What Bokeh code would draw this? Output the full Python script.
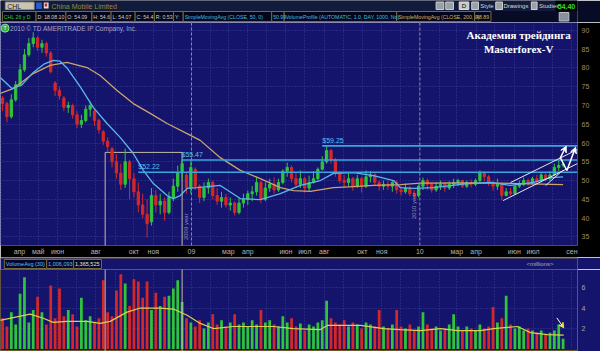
import numpy as np
import pandas as pd
from bokeh.plotting import figure
from bokeh.layouts import column
from bokeh.models import Range1d, FixedTicker, Label, Arrow, VeeHead, Span, ColumnDataSource
from bokeh.core.properties import value
from bokeh.embed import file_html
from bokeh.resources import INLINE

BASE = pd.Timestamp("2008-01-01")


def days(seq):
    return [(pd.Timestamp(d) - BASE).days for d in seq]


# ---------------- data (weekly bars) ----------------
week_dates = pd.date_range("2008-03-05", periods=129, freq="7D")
opens = [72, 70.5, 67, 71.5, 75.5, 79.5, 83.5, 86.5, 88, 85.5,
         86.5, 84, 76, 74, 72, 69.5, 70, 67.5, 65, 66,
         69, 68.5, 66, 63, 60.5, 58.5, 55, 52, 49, 55,
         50.5, 47, 43.5, 41, 39, 46, 43.5, 44.5, 41.5, 45.5,
         48.5, 52, 51.5, 48, 53, 48.5, 45.5, 48, 49.5, 46,
         44.5, 45.5, 43.5, 44, 41.5, 44, 45, 46.5, 47, 49.5,
         45, 48, 49, 47.5, 49.5, 52.5, 53.5, 50.5, 49, 50.5,
         48, 49.5, 50.5, 53, 55, 58, 55.5, 52, 50, 49.5,
         50.5, 48.5, 50.5, 48.5, 51, 51.5, 49.5, 48.5, 49, 48.5,
         49.5, 47.5, 47, 48, 46.5, 46, 48.5, 50, 49, 47.5,
         48.5, 49, 48, 49, 49.5, 50, 48.5, 49.5, 49, 50,
         52, 51, 49.5, 48.5, 49, 46, 47, 46.5, 48.5, 49,
         50, 49.5, 50.5, 50, 51.5, 50.5, 51.5, 53.5, 54.09]
highs = [72.5, 71, 73, 76.5, 81, 85, 88, 89.5, 88.5, 87.5,
         87, 84.5, 76.5, 75, 72.5, 71, 70.5, 68.5, 67.5, 70,
         71, 69, 66.5, 63.5, 61.5, 59, 57, 54.5, 58.5, 55.5,
         52, 49.5, 46.5, 45, 48, 47.5, 46.5, 45.5, 47, 50.5,
         54, 55.47, 52, 55.3, 53.5, 49, 49.5, 50.5, 50, 48,
         47, 46.5, 45.5, 44.5, 45.5, 46.5, 47.3, 48.5, 50.8, 50,
         49.5, 50.5, 50.8, 50.5, 53, 54.8, 54, 52, 52.7, 51,
         51.3, 52.5, 53.5, 56.5, 59.25, 58.5, 56, 52.5, 51.5, 51.9,
         51, 51.5, 51, 52.7, 52.5, 52, 50, 50, 50, 50,
         50, 48.5, 49.2, 48.5, 47.5, 49, 50.8, 50.5, 49.5, 49.5,
         50, 49.5, 49.8, 50.5, 50.5, 50.2, 50, 50.3, 50.5, 52.7,
         52.5, 51.5, 50, 50.5, 49.5, 48, 48, 49, 50, 50.8,
         50.5, 51, 51.5, 52, 52, 52.5, 54.5, 55.3, 54.6]
lows = [68.5, 65.5, 66.5, 71, 75, 79, 83, 85.5, 84.5, 84,
        83, 78.5, 72.5, 71.5, 68.5, 68, 66.5, 64, 64, 65.5,
        67, 64.5, 62.5, 59.5, 57.5, 53.5, 50.5, 47.5, 48, 45,
        45.5, 41.5, 40, 34.8, 38, 41.5, 41, 39.3, 41, 44.5,
        47, 50.5, 46.5, 46.5, 47.5, 44, 44.5, 46.5, 45, 43.5,
        42.8, 42.8, 42, 40.7, 41, 42.8, 43.5, 44.5, 46, 44,
        44.5, 47, 46.5, 47, 49, 51, 49.5, 48, 48, 46.8,
        47, 49.2, 50, 52.7, 54.5, 54.5, 51, 49.2, 48, 48.5,
        47.3, 48, 46.8, 48, 49.5, 48.5, 47.3, 47.5, 47.5, 47,
        46.5, 46, 46.5, 45.8, 45.2, 45.5, 47.5, 47.5, 46.8, 47,
        47.5, 47, 47.5, 48, 48.5, 48, 48, 48.2, 48.5, 49.5,
        49.8, 48.5, 47.3, 47.5, 44.7, 45.8, 46, 46.2, 48, 48.5,
        48.5, 49, 49.2, 49.5, 49.8, 50, 51.2, 52.5, 53.5]
closes = [70.5, 67, 71.5, 75.5, 79.5, 83.5, 86.5, 88, 85.5, 86.5,
          84, 79, 74, 72.5, 69.5, 70, 67.5, 65, 66, 69,
          70, 66, 63.5, 60.5, 59, 55, 52, 49, 55, 50.5,
          47, 43.5, 41, 38.5, 46, 43.5, 44.5, 41.5, 45.5, 48.5,
          52, 54.5, 48, 53.5, 48.5, 45.5, 48, 49.5, 46, 44.5,
          45.5, 43.5, 44, 41.5, 44, 45, 46.5, 47, 49.5, 45,
          48, 49, 47.5, 49.5, 52.5, 53.5, 50.5, 49, 50.5, 48,
          49.5, 50.5, 53, 55, 58, 55.5, 52, 50, 49.5, 50.5,
          48.5, 50.5, 48.5, 51, 51.5, 49.5, 48.5, 49, 48.5, 49.5,
          47.5, 47, 48, 46.5, 46, 48.5, 50, 49, 47.5, 48.5,
          49, 48, 49, 49.5, 50, 48.5, 49.5, 49, 50, 52,
          51, 49.5, 48.5, 49, 46, 47, 46.5, 48.5, 49, 50,
          49.5, 50.5, 50, 51.5, 50.5, 51.5, 53.5, 54, 54.4]
volumes = [3.0, 2.2, 3.6, 2.4, 5.4, 7.0, 2.6, 3.8, 5.1, 3.6,
           2.4, 6.2, 3.0, 5.9, 3.2, 3.8, 3.4, 2.2, 5.0, 2.8,
           3.2, 2.6, 3.0, 6.7, 3.6, 3.2, 5.7, 7.3, 6.4, 4.2,
           6.8, 6.6, 5.0, 6.6, 3.8, 5.5, 4.2, 5.1, 5.2, 5.9,
           6.7, 4.6, 3.0, 2.6, 2.2, 2.8, 2.0, 2.6, 3.4, 2.4,
           2.8, 2.2, 2.6, 3.4, 2.4, 2.6, 2.2, 2.8, 2.4, 3.8,
           2.6, 2.8, 2.4, 2.2, 3.2, 2.6, 3.0, 2.2, 2.5, 1.8,
           2.4, 2.2, 2.6, 2.8, 4.7, 3.0, 2.6, 2.4, 2.8, 2.2,
           2.6, 2.4, 2.0, 2.6, 2.4, 2.2, 3.8, 2.2, 2.0, 2.4,
           3.8, 2.2, 2.0, 2.4, 1.8, 2.2, 3.6, 2.4, 2.0, 2.2,
           1.8, 2.0, 2.4, 3.4, 2.2, 1.8, 2.2, 2.0, 1.8, 2.4,
           2.0, 2.2, 4.1, 2.6, 3.0, 5.2, 2.4, 2.0, 2.2, 1.8,
           2.0, 1.8, 1.6, 1.8, 1.4, 1.6, 1.8, 2.4, 1.0061]

sma50_dates = ["2008-03-01", "2008-03-20", "2008-04-05", "2008-04-23", "2008-05-10", "2008-05-25",
               "2008-06-05", "2008-06-16", "2008-07-07", "2008-07-28", "2008-08-19", "2008-09-09",
               "2008-09-30", "2008-10-16", "2008-11-01", "2008-11-23", "2008-12-03", "2008-12-14",
               "2008-12-25", "2009-01-10", "2009-02-16", "2009-03-20", "2009-04-21", "2009-05-23",
               "2009-06-24", "2009-07-26", "2009-08-16", "2009-09-17", "2009-10-19", "2009-11-20",
               "2009-12-01", "2009-12-22", "2010-01-23", "2010-03-18", "2010-04-24", "2010-05-26",
               "2010-07-02", "2010-07-29", "2010-08-18"]
sma50_vals = [77.5, 74.5, 75.5, 78.8, 81.0, 82.0, 81.8, 80.0, 75.0, 69.5, 65.2, 61.5,
              57.2, 52.7, 49.2, 46.0, 45.2, 46.0, 47.9, 48.1, 48.7, 45.2, 44.9, 46.5,
              48.7, 50.0, 51.9, 52.1, 51.3, 50.0, 48.1, 47.9, 48.1, 49.2, 49.5, 48.7,
              49.5, 50.8, 50.99]
sma200_dates = ["2008-03-01", "2008-03-22", "2008-04-23", "2008-05-20", "2008-06-16", "2008-07-18",
                "2008-08-08", "2008-09-04", "2008-09-30", "2008-10-27", "2008-11-23", "2008-12-25",
                "2009-01-15", "2009-02-16", "2009-03-20", "2009-04-21", "2009-05-23", "2009-06-13",
                "2009-07-10", "2009-08-16", "2009-09-17", "2009-10-19", "2009-12-01", "2010-01-02",
                "2010-03-07", "2010-05-10", "2010-06-27", "2010-08-18"]
sma200_vals = [73.2, 74.5, 78.5, 80.7, 81.5, 80.1, 78.0, 74.0, 70.5, 67.9, 65.2, 62.5,
               60.7, 56.1, 52.7, 50.5, 48.1, 47.3, 47.1, 48.1, 48.4, 48.7, 48.9, 49.3,
               49.4, 49.3, 49.1, 48.89]
volavg_dates = ["2008-03-01", "2008-04-18", "2008-05-09", "2008-05-25", "2008-06-16", "2008-07-18",
                "2008-08-08", "2008-08-24", "2008-09-20", "2008-10-11", "2008-11-12", "2008-12-03",
                "2008-12-25", "2009-01-15", "2009-02-05", "2009-03-09", "2009-04-10", "2009-05-12",
                "2009-06-13", "2009-07-26", "2009-08-06", "2009-09-28", "2009-11-04", "2009-12-01",
                "2010-01-02", "2010-02-03", "2010-03-02", "2010-04-08", "2010-04-29", "2010-06-06",
                "2010-06-27", "2010-07-24", "2010-08-19"]
volavg_vals = [2.8, 3.4, 3.0, 2.6, 2.7, 2.7, 2.5, 2.7, 3.6, 4.0, 4.0, 3.9,
               3.3, 2.5, 2.0, 2.2, 2.2, 2.2, 2.0, 1.9, 2.3, 2.3, 2.0, 1.9,
               1.8, 2.0, 1.8, 1.8, 2.0, 2.2, 1.6, 1.4, 1.3655]

level_prices = [52.22, 55.47, 59.25]
level_starts = ["2008-10-08", "2008-12-16", "2009-07-29"]

month_label_dates = ["2008-04-01", "2008-05-01", "2008-06-01", "2008-08-01", "2008-10-01", "2008-11-01",
                     "2009-01-01", "2009-03-01", "2009-04-01", "2009-06-01", "2009-07-01", "2009-08-01",
                     "2009-10-01", "2009-11-01", "2010-01-01", "2010-03-01", "2010-04-01", "2010-06-01",
                     "2010-07-01", "2010-09-01"]
month_labels = ["апр", "май", "июн", "авг", "окт", "ноя", "09", "мар", "апр", "июн", "июл", "авг",
                "окт", "ноя", "10", "мар", "апр", "июн", "июл", "сен"]
price_ticks = [35, 40, 45, 50, 55, 60, 65, 70, 75, 80, 85, 90]
vol_ticks = [2, 4, 6]

# drawn annotations (date, price)
box_dates = ["2008-08-16", "2008-12-17"]
box_top = 57.5
chan_upper = (["2010-05-26", "2010-09-10"], [49.47, 58.27])
chan_lower = (["2010-05-14", "2010-09-10"], [44.67, 54.53])
chan_short = (["2010-07-21", "2010-08-17"], [48.67, 52.67])

# ---------------- styling ----------------
BG = "#14146c"
GRID = "#3a3a9c"
UP = "#2fc43a"
DN = "#d42828"
FONT = value("Liberation Sans")
X0, X1 = 60.7, 983.0
STRIP_X = 1001.4  # centre of right-hand price strip

x = [(d - BASE).days for d in week_dates]
up = [c >= o for o, c in zip(opens, closes)]
cols = [UP if u else DN for u in up]
src = ColumnDataSource(dict(x=x, h=highs, l=lows,
                            top=[max(o, c) for o, c in zip(opens, closes)],
                            bot=[min(o, c) for o, c in zip(opens, closes)],
                            col=cols, vol=volumes))

xr = Range1d(X0, X1)


def plain_axis(ax, color):
    ax.major_label_text_font_size = "7px"
    ax.major_label_text_color = color
    ax.major_label_text_font = "Liberation Sans"
    ax.axis_line_color = None
    ax.major_tick_line_color = None
    ax.minor_tick_line_color = None
    ax.major_tick_out = 0
    ax.major_tick_in = 0
    ax.minor_tick_out = 0
    ax.minor_tick_in = 0


# ---------------- header ----------------
hd = figure(width=600, height=22, x_range=Range1d(0, 600), y_range=Range1d(22, 0),
            output_backend="svg", toolbar_location=None, x_axis_location=None, y_axis_location=None,
            min_border=0, background_fill_color="#070b26", border_fill_color="#070b26",
            outline_line_color=None)
hd.grid.visible = False
hd.quad(left=[0], right=[600], top=[0], bottom=[10.5], fill_color="#111b3b", line_color=None)
hd.quad(left=[577], right=[600], top=[0], bottom=[10.5], fill_color="black", line_color=None)
hd.quad(left=[5], right=[35], top=[1.5], bottom=[9], fill_color="#c9c5b3", line_color="#8a8a80")
hd.text(x=[7], y=[5.5], text=["CHL"], text_font=FONT, text_font_size="7px",
        text_color="#202020", text_baseline="middle")
hd.quad(left=[37], right=[43], top=[2], bottom=[8.5], fill_color="#2a5ad0", line_color=None)
hd.quad(left=[45], right=[50], top=[2], bottom=[8], fill_color="#e0e0e0", line_color=None)
hd.quad(left=[46], right=[48.5], top=[3], bottom=[6], fill_color="#d02020", line_color=None)
hd.text(x=[53], y=[5.5], text=["China Mobile Limited"], text_font=FONT, text_font_size="7px",
        text_color="#9c8636", text_baseline="middle")
hd.quad(left=[453, 463, 490, 515, 552], right=[461, 471, 497, 522, 558], top=[1.5] * 5, bottom=[9] * 5,
        fill_color="#9aa0a8", line_color="#d0d0d0")
hd.quad(left=[477], right=[487], top=[1.5], bottom=[9], fill_color="#c8c8c8", line_color="#e0e0e0")
hd.text(x=[482], y=[5.5], text=["D"], text_font=FONT, text_font_size="6px", text_color="black",
        text_align="center", text_baseline="middle")
hd.text(x=[499, 523, 560], y=[5.5] * 3, text=["Style", "Drawings", "Studies"], text_font=FONT,
        text_font_size="6px", text_color="#d8d8d8", text_baseline="middle")
hd.text(x=[588.5], y=[5.5], text=["54.40"], text_font=FONT, text_font_size="7px", text_font_style="bold",
        text_color="#30e030", text_align="center", text_baseline="middle")

status = [(2, 37, "CHL  26 y D", "#34d034"), (37, 68, "D: 18.08.10", "#d0d0d0"), (68, 95, "O: 54.09", "#d0d0d0"),
          (95, 115, "H: 54.6", "#d0d0d0"), (115, 140, "L: 54.07", "#d0d0d0"), (140, 160, "C: 54.4", "#d0d0d0"),
          (160, 180, "R: 0.53", "#d0d0d0"), (180, 190, "Y:", "#d0d0d0"),
          (190, 282, "SimpleMovingAvg (CLOSE, 50, 0)", "#44bde8"), (282, 295, "50.99", "#44bde8"),
          (295, 412, "VolumeProfile (AUTOMATIC, 1.0, DAY, 1000, No)", "#44bde8"),
          (412, 493, "SimpleMovingAvg (CLOSE, 200, 0)", "#d4b460"), (493, 510, "48.89", "#d4b460")]
hd.quad(left=[s[0] for s in status], right=[s[1] for s in status], top=[11] * len(status),
        bottom=[21] * len(status), fill_color="#03051a", line_color="#7a6a3a")
hd.text(x=[s[0] + 1.5 for s in status], y=[16.2] * len(status), text=[s[2] for s in status],
        text_color=[s[3] for s in status], text_font=FONT, text_font_size="5.2px", text_baseline="middle")
hd.quad(left=[581], right=[591], top=[12], bottom=[20.5], fill_color="#8890a0", line_color="#c0c0c0")

# ---------------- price panel ----------------
pp = figure(width=600, height=235, x_range=xr, y_range=Range1d(32.7, 92.1), output_backend="svg",
            toolbar_location=None, y_axis_location="right", min_border_left=0, min_border_right=23,
            min_border_top=0, min_border_bottom=12, background_fill_color=BG, border_fill_color="black",
            outline_line_color=None)
ya = pp.yaxis[0]
ya.ticker = FixedTicker(ticks=price_ticks)
plain_axis(ya, "#a08a62")
ya.major_label_standoff = 4
label_days = days(month_label_dates)
xa = pp.xaxis[0]
xa.ticker = FixedTicker(ticks=label_days)
xa.major_label_overrides = {d: t for d, t in zip(label_days, month_labels)}
plain_axis(xa, "#b4b4b4")
xa.major_label_standoff = 2
grid_days = days(pd.date_range("2008-03-01", "2010-09-01", freq="MS"))
pp.xgrid.ticker = FixedTicker(ticks=grid_days)
pp.xgrid.grid_line_color = GRID
pp.xgrid.grid_line_dash = "1 2"
pp.ygrid.grid_line_color = GRID
pp.ygrid.grid_line_dash = "1 2"

for yd in days(["2009-01-01", "2010-01-01"]):
    pp.add_layout(Span(location=yd, dimension="height", line_color="#8a8aa8", line_dash="3 2", line_width=1))

pp.line(x=[days(box_dates)[0]] * 2 + [days(box_dates)[1]] * 2, y=[30, box_top, box_top, 30],
        line_color="#c4bca0", line_width=1)

pp.segment(x0="x", y0="h", x1="x", y1="l", line_color="col", line_width=1, source=src)
pp.vbar(x="x", width=3.6, top="top", bottom="bot", fill_color="col", line_color="col", source=src)

pp.line(days(sma200_dates), sma200_vals, line_color="#c9a46c", line_width=1.3)
pp.line(days(sma50_dates), sma50_vals, line_color="#5cb6ec", line_width=1.3)

pp.segment(x0=days(level_starts), y0=level_prices, x1=[X1] * 3, y1=level_prices,
           line_color="#3aa6de", line_width=1.6)
pp.text(x=days(level_starts), y=[v + 0.6 for v in level_prices], text=[f"${v:.2f}" for v in level_prices],
        text_font=FONT, text_font_size="7px", text_color="#5cc0f0", text_baseline="bottom")

for dts, vals in (chan_upper, chan_lower, chan_short):
    pp.line(days(dts), vals, line_color="#e8e8f0", line_width=1)
a0 = days(["2010-08-13", "2010-08-23", "2010-08-14", "2010-08-24", "2010-09-07"])
pp.line([a0[2], a0[3]], [55.95, 52.67], line_color="white", line_width=1.5)
pp.add_layout(Arrow(x_start=a0[0], y_start=55.87, x_end=a0[1], y_end=59.15, line_color="white",
                    line_width=1.5, end=VeeHead(size=6, fill_color="white", line_color="white")))
pp.add_layout(Arrow(x_start=a0[3], y_start=52.67, x_end=a0[4], y_end=58.88, line_color="white",
                    line_width=1.5, end=VeeHead(size=6, fill_color="white", line_color="white")))

pp.text(x=days(["2008-12-24", "2009-12-22"]), y=[37.7, 43.3], text=["2009 year", "2010 year"], angle=np.pi / 2,
        text_font=FONT, text_font_size="6px", text_color="#8c8cb0", text_align="center", text_baseline="middle")

cx = days(["2008-03-09", "2008-03-17"])
pp.scatter(x=[cx[0]], y=[90.6], size=8, fill_color="#30b040", line_color="#90e090")
pp.text(x=[cx[0]], y=[90.6], text=["T"], text_font=FONT, text_font_size="5px", text_color="white",
        text_align="center", text_baseline="middle")
pp.text(x=[cx[1]], y=[90.6], text=["2010 © TD AMERITRADE IP Company, Inc."], text_font=FONT,
        text_font_size="6.5px", text_color="#a4a4c4", text_baseline="middle")

tx = days(["2010-06-08"])[0]
pp.text(x=[tx, tx], y=[88.8, 85.1], text=["Академия трейдинга", "Masterforex-V"],
        text_font=value("Liberation Serif"), text_font_style="bold", text_font_size="11px",
        text_color="white", text_align="center", text_baseline="middle")

for val, bg in ((54.4, "#c8c8c8"), (50.99, "#3cbce4"), (48.89, "#ead04a")):
    pp.add_layout(Label(x=STRIP_X, y=val, text=f"{val:g}", text_align="center", text_baseline="middle",
                        text_font_size="7px", text_font="Liberation Sans", text_color="black",
                        background_fill_color=bg))

# ---------------- volume header ----------------
vh = figure(width=600, height=12, x_range=Range1d(0, 600), y_range=Range1d(12, 0), output_backend="svg",
            toolbar_location=None, x_axis_location=None, y_axis_location=None, min_border=0,
            background_fill_color=BG, border_fill_color=BG, outline_line_color=None)
vh.grid.visible = False
vh.segment(x0=[0], y0=[0.5], x1=[600], y1=[0.5], line_color="#7a6a3a", line_width=1)
vbox = [(4, 48, "VolumeAvg (30)", "#58c0ee"), (48, 76, "1,006,093", "#58c0ee"), (76, 105, "1,365,525", "#e8e8c8")]
vh.quad(left=[b[0] for b in vbox], right=[b[1] for b in vbox], top=[2] * 3, bottom=[11] * 3,
        fill_color="#05082a", line_color="#7a6a3a")
vh.text(x=[b[0] + 1.5 for b in vbox], y=[6.7] * 3, text=[b[2] for b in vbox], text_color=[b[3] for b in vbox],
        text_font=FONT, text_font_size="5.5px", text_baseline="middle")
vh.text(x=[575], y=[6.7], text=["<millions>"], text_font=FONT, text_font_size="6px", text_color="#b0b0b0",
        text_align="right", text_baseline="middle")

# ---------------- volume panel ----------------
pv = figure(width=600, height=82, x_range=xr, y_range=Range1d(-0.24, 7.76), output_backend="svg",
            toolbar_location=None, x_axis_location=None, y_axis_location="right", min_border_left=0,
            min_border_right=23, min_border_top=0, min_border_bottom=0, background_fill_color=BG,
            border_fill_color=BG, outline_line_color="#6a5a32")
vya = pv.yaxis[0]
vya.ticker = FixedTicker(ticks=vol_ticks)
plain_axis(vya, "#a8a8a8")
vya.major_label_standoff = 4
pv.xgrid.ticker = FixedTicker(ticks=grid_days)
pv.xgrid.grid_line_color = GRID
pv.xgrid.grid_line_dash = "1 2"
pv.ygrid.grid_line_color = GRID
pv.ygrid.grid_line_dash = "1 2"
pv.vbar(x="x", width=4.4, top="vol", bottom=0, fill_color="col", line_color=None, source=src)
pv.line(days(volavg_dates), volavg_vals, line_color="#d8d050", line_width=1.2)
bd = days(box_dates)
pv.segment(x0=bd, y0=[-1, -1], x1=bd, y1=[9, 9], line_color="#c4bca0", line_width=1)
vd = days(["2010-08-08", "2010-08-19"])
pv.add_layout(Arrow(x_start=vd[0], y_start=3.04, x_end=vd[1], y_end=2.07, line_color="white", line_width=1,
                    end=VeeHead(size=5, fill_color="#f0e040", line_color="#f0e040")))
pv.add_layout(Label(x=STRIP_X, y=volumes[-1], text=f"{volumes[-1]:.4f}", text_align="center",
                    text_baseline="middle", text_font_size="7px", text_font="Liberation Sans",
                    text_color="black", background_fill_color="#44cce8"))

layout = column(hd, pp, vh, pv, spacing=0)
open("out.html", "w").write(file_html(layout, INLINE))
